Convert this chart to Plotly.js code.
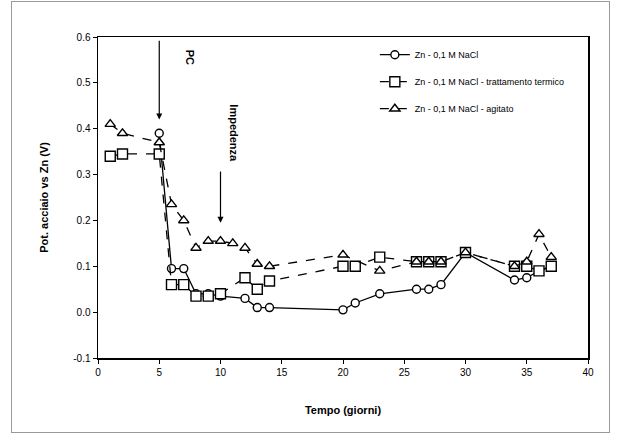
<!DOCTYPE html>
<html>
<head>
<meta charset="utf-8">
<script src="https://cdn.plot.ly/plotly-3.0.1.min.js"></script>
<style>
html,body{margin:0;padding:0;background:#fff;}
#frame{position:absolute;left:11px;top:1px;width:597px;height:430px;border:1px solid #999;}
#chart{position:absolute;left:0;top:0;width:620px;height:438px;}
</style>
</head>
<body>
<div id="frame"></div>
<div id="chart"></div>
<script>
// Series names
const names = [
  "Zn - 0,1 M NaCl",
  "Zn - 0,1 M NaCl - trattamento termico",
  "Zn - 0,1 M NaCl - agitato"
];
// Series 1 (circles, solid)
const x1 = [5, 6, 7, 8, 9, 10, 12, 13, 14, 20, 21, 23, 26, 27, 28, 30, 34, 35, 36, 37];
const y1 = [0.39, 0.095, 0.095, 0.04, 0.04, 0.035, 0.03, 0.01, 0.01, 0.005, 0.02, 0.04, 0.05, 0.05, 0.06, 0.13, 0.07, 0.075, 0.09, 0.10];
// Series 2 (squares, dashed)
const x2 = [1, 2, 5, 6, 7, 8, 9, 10, 12, 13, 14, 20, 21, 23, 26, 27, 28, 30, 34, 35, 36, 37];
const y2 = [0.34, 0.345, 0.345, 0.06, 0.06, 0.035, 0.035, 0.04, 0.075, 0.05, 0.068, 0.10, 0.10, 0.12, 0.11, 0.11, 0.11, 0.13, 0.10, 0.10, 0.09, 0.10];
// Series 3 (triangles, dashed)
const x3 = [1, 2, 5, 6, 7, 8, 9, 10, 11, 12, 13, 14, 20, 23, 26, 27, 28, 30, 34, 35, 36, 37];
const y3 = [0.41, 0.39, 0.37, 0.235, 0.20, 0.14, 0.155, 0.155, 0.15, 0.14, 0.105, 0.10, 0.125, 0.09, 0.11, 0.11, 0.11, 0.13, 0.10, 0.11, 0.17, 0.12];
// Annotations
const notes = [
  {label: "PC", x: 5, yTop: 0.595, yTip: 0.42, tx: 7.5, ty: 0.555},
  {label: "Impedenza", x: 10, yTop: 0.31, yTip: 0.195, tx: 11.1, ty: 0.39}
];
const xTicks = [0, 5, 10, 15, 20, 25, 30, 35, 40];
const yTicks = [-0.1, 0.0, 0.1, 0.2, 0.3, 0.4, 0.5, 0.6];

const mk = (x, y, name, sym, dash, size, g) => ({
  x: x, y: y, name: name, type: 'scatter', mode: 'lines+markers', legendgroup: g,
  line: {color: '#000', width: 1.3, dash: dash},
  marker: {symbol: sym, size: size, color: '#fff', line: {color: '#000', width: 1.4}}
});
const data = [
  mk(x1, y1, names[0], 'circle', 'solid', 8, 'a'),
  mk(x2, y2, names[1], 'square', 'dash', 10, 'b'),
  mk(x3, y3, names[2], 'triangle-up', 'dash', 9, 'c')
];

const annotations = [];
notes.forEach(n => {
  annotations.push({x: n.x, y: n.yTip, ax: n.x, ay: n.yTop, xref: 'x', yref: 'y', axref: 'x', ayref: 'y',
    showarrow: true, arrowhead: 2, arrowsize: 1, arrowwidth: 1.2, arrowcolor: '#000', text: ''});
  annotations.push({x: n.tx, y: n.ty, xref: 'x', yref: 'y', text: '<b>' + n.label + '</b>', showarrow: false,
    textangle: 90, font: {family: 'Liberation Sans, Arial', size: 11, color: '#000'}});
});

const layout = {
  width: 620, height: 438,
  paper_bgcolor: 'rgba(0,0,0,0)', plot_bgcolor: '#fff',
  margin: {l: 98, r: 32, t: 37, b: 80},
  showlegend: true,
  legend: {x: 0.565, y: 0.99, xanchor: 'left', yanchor: 'top', bgcolor: 'rgba(255,255,255,0)',
    font: {family: 'Liberation Sans, Arial', size: 9, color: '#000'}, tracegroupgap: 8},
  xaxis: {range: [0, 40], tickvals: xTicks, ticks: 'outside', ticklen: 4, tickcolor: '#000',
    showline: true, linecolor: '#000', linewidth: 1.5, mirror: true, showgrid: false, zeroline: false,
    tickfont: {family: 'Liberation Sans, Arial', size: 10, color: '#000'},
    title: {text: '<b>Tempo (giorni)</b>', font: {family: 'Liberation Sans, Arial', size: 11, color: '#000'}, standoff: 30}},
  yaxis: {range: [-0.1, 0.6], tickvals: yTicks, ticktext: yTicks.map(v => v.toFixed(1)), ticks: 'outside', ticklen: 4, tickcolor: '#000',
    showline: true, linecolor: '#000', linewidth: 1.5, mirror: true, showgrid: false, zeroline: false,
    tickfont: {family: 'Liberation Sans, Arial', size: 10, color: '#000'},
    title: {text: '<b>Pot. acciaio vs Zn (V)</b>', font: {family: 'Liberation Sans, Arial', size: 11, color: '#000'}, standoff: 22}},
  annotations: annotations
};
Plotly.newPlot('chart', data, layout, {displayModeBar: false, staticPlot: true});
</script>
</body>
</html>
